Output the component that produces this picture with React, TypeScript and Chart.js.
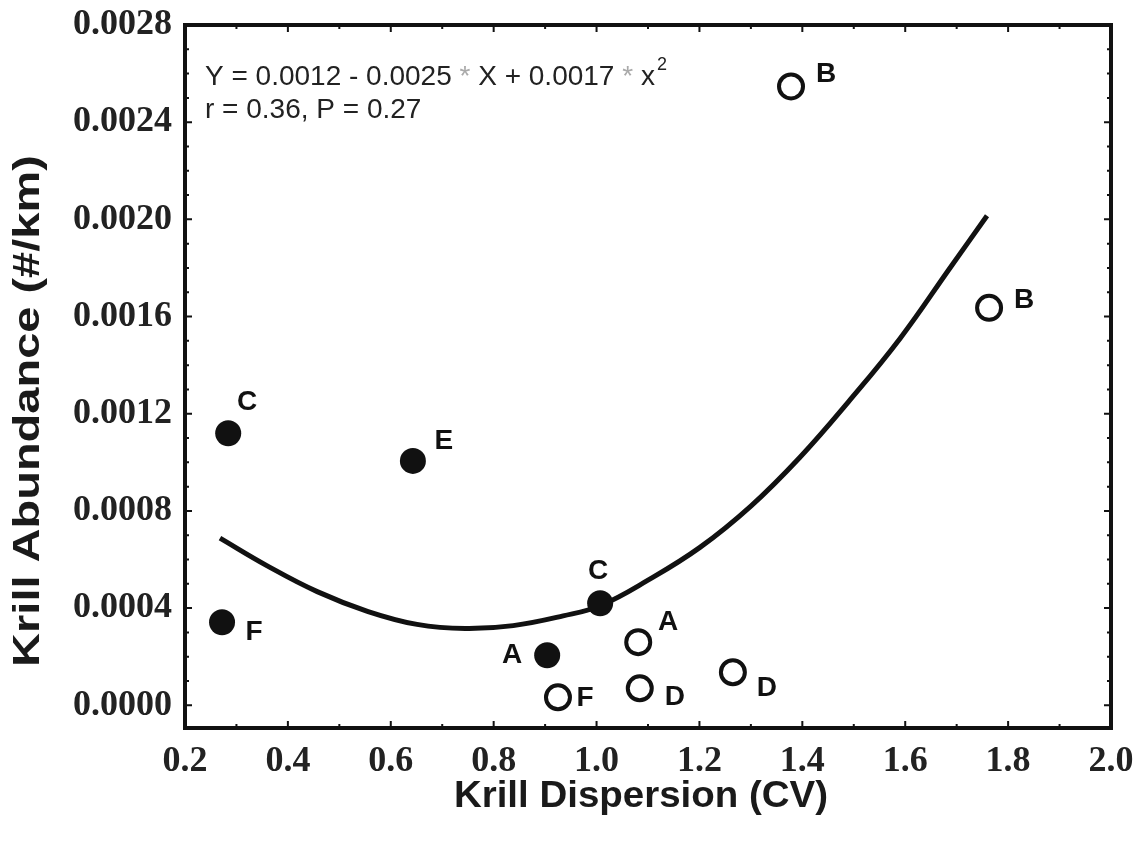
import React, { useEffect, useRef } from "react";
import { Chart, registerables } from "chart.js";

Chart.register(...registerables);

// ---- data ----
const filledX = [0.284, 0.272, 0.643, 0.904, 1.007];
const filledY = [0.00112, 0.000342, 0.001006, 0.000206, 0.00042];
const filledLabels = ["C", "F", "E", "A", "C"];

const openX = [1.378, 1.763, 1.081, 0.925, 1.084, 1.265];
const openY = [0.002547, 0.001636, 0.00026, 0.000033, 0.00007, 0.000136];
const openLabels = ["B", "B", "A", "F", "D", "D"];

const fitX = [0.268, 0.359, 0.457, 0.556, 0.651, 0.745, 0.838, 0.935, 1.007, 1.1, 1.201, 1.3, 1.395, 1.49, 1.59, 1.687, 1.759];
const fitY = [0.000688, 0.000575, 0.000468, 0.000386, 0.000333, 0.000316, 0.000328, 0.000368, 0.00041, 0.000515, 0.00065, 0.00082, 0.00102, 0.00125, 0.00151, 0.0018, 0.002015];

const xTickValues = [0.2, 0.4, 0.6, 0.8, 1.0, 1.2, 1.4, 1.6, 1.8, 2.0];
const xMinorTicks = [0.3, 0.5, 0.7, 0.9, 1.1, 1.3, 1.5, 1.7, 1.9];
const yTickValues = [0, 0.0004, 0.0008, 0.0012, 0.0016, 0.002, 0.0024, 0.0028];
const yMinorTicks = [0.0001, 0.0002, 0.0003, 0.0005, 0.0006, 0.0007, 0.0009, 0.001, 0.0011, 0.0013, 0.0014, 0.0015, 0.0017, 0.0018, 0.0019, 0.0021, 0.0022, 0.0023, 0.0025, 0.0026, 0.0027];

const xTitle = "Krill Dispersion (CV)";
const yTitle = "Krill Abundance (#/km)";
const equationParts = ["Y = 0.0012 - 0.0025 ", "*", " X + 0.0017 ", "*", " x"];
const equationSup = "2";
const statsLine = "r = 0.36, P = 0.27";

// ---- label placement (pixels, styling only) ----
const filledOffsets = [[19, -31], [32, 10], [31, -20], [-35, 0], [-2, -32]];
const openOffsets = [[35, -12], [35, -8], [30, -20], [27, 1], [35, 9], [34, 16]];

const INK = "#111";

const decorPlugin = {
  id: "decor",
  afterDraw(chart: any) {
    const ctx = chart.ctx;
    const { left, right, top, bottom } = chart.chartArea;
    const xs = chart.scales.x;
    const ys = chart.scales.y;
    ctx.save();
    // inward tick marks
    ctx.strokeStyle = INK;
    ctx.lineWidth = 2;
    const tickX = (v: number, len: number) => {
      const p = xs.getPixelForValue(v);
      ctx.beginPath();
      ctx.moveTo(p, bottom);
      ctx.lineTo(p, bottom - len);
      ctx.moveTo(p, top);
      ctx.lineTo(p, top + len);
      ctx.stroke();
    };
    const tickY = (v: number, len: number) => {
      const p = ys.getPixelForValue(v);
      ctx.beginPath();
      ctx.moveTo(left, p);
      ctx.lineTo(left + len, p);
      ctx.moveTo(right, p);
      ctx.lineTo(right - len, p);
      ctx.stroke();
    };
    xTickValues.forEach((v) => tickX(v, 7));
    xMinorTicks.forEach((v) => tickX(v, 4));
    yTickValues.forEach((v) => tickY(v, 7));
    yMinorTicks.forEach((v) => tickY(v, 4));
    // frame
    ctx.lineWidth = 4;
    ctx.strokeRect(left, top, right - left, bottom - top);

    // point labels
    ctx.fillStyle = INK;
    ctx.font = "bold 28px 'Liberation Sans', Arial, sans-serif";
    ctx.textAlign = "center";
    ctx.textBaseline = "middle";
    const m0 = chart.getDatasetMeta(0).data;
    filledLabels.forEach((t, i) => {
      const el = m0[i];
      ctx.fillText(t, el.x + filledOffsets[i][0], el.y + filledOffsets[i][1]);
    });
    const m1 = chart.getDatasetMeta(1).data;
    openLabels.forEach((t, i) => {
      const el = m1[i];
      ctx.fillText(t, el.x + openOffsets[i][0], el.y + openOffsets[i][1]);
    });

    // equation text
    ctx.textAlign = "left";
    ctx.textBaseline = "alphabetic";
    ctx.font = "28px 'Liberation Sans', Arial, sans-serif";
    let cx = 205;
    equationParts.forEach((part) => {
      ctx.fillStyle = part === "*" ? "#aaa" : "#222";
      ctx.fillText(part, cx, 85);
      cx += ctx.measureText(part).width;
    });
    ctx.fillStyle = "#222";
    ctx.font = "18px 'Liberation Sans', Arial, sans-serif";
    ctx.fillText(equationSup, cx + 2, 70);
    ctx.font = "28px 'Liberation Sans', Arial, sans-serif";
    ctx.fillText(statsLine, 205, 118);

    // axis titles
    ctx.fillStyle = "#1a1a1a";
    ctx.font = "bold 37px 'Liberation Sans', Arial, sans-serif";
    ctx.textAlign = "center";
    ctx.textBaseline = "middle";
    ctx.save();
    ctx.translate(641, 797);
    ctx.scale(1.04, 1);
    ctx.fillText(xTitle, 0, 0);
    ctx.restore();
    ctx.save();
    ctx.translate(29, 411);
    ctx.rotate(-Math.PI / 2);
    ctx.scale(1.27, 1);
    ctx.fillText(yTitle, 0, 0);
    ctx.restore();

    ctx.restore();
  },
};

export default function App() {
  const ref = useRef<HTMLCanvasElement | null>(null);
  useEffect(() => {
    if (!ref.current) return;
    const chart = new Chart(ref.current, {
      type: "scatter",
      data: {
        datasets: [
          {
            label: "filled",
            data: filledX.map((x, i) => ({ x, y: filledY[i] })),
            backgroundColor: INK,
            borderWidth: 0,
            pointRadius: 13,
            pointHoverRadius: 13,
          },
          {
            label: "open",
            data: openX.map((x, i) => ({ x, y: openY[i] })),
            backgroundColor: "#fff",
            borderColor: INK,
            borderWidth: 4,
            pointRadius: 12,
            pointHoverRadius: 12,
          },
          {
            label: "fit",
            data: fitX.map((x, i) => ({ x, y: fitY[i] })),
            showLine: true,
            borderColor: INK,
            borderWidth: 5,
            pointRadius: 0,
            tension: 0.4,
            fill: false,
          } as any,
        ],
      },
      options: {
        responsive: false,
        animation: false,
        devicePixelRatio: 1,
        layout: { padding: { top: 25, right: 30, left: 0, bottom: 0 } },
        plugins: { legend: { display: false }, tooltip: { enabled: false } },
        scales: {
          x: {
            type: "linear",
            min: 0.2,
            max: 2.0,
            grid: { display: false, drawTicks: false },
            border: { display: false },
            afterBuildTicks: (axis: any) => {
              axis.ticks = xTickValues.map((v) => ({ value: v }));
            },
            afterFit: (axis: any) => {
              axis.height = 114;
            },
            ticks: {
              autoSkip: false,
              maxRotation: 0,
              padding: 0,
              color: "#222",
              font: { family: "'Liberation Serif', 'Times New Roman', serif", size: 36, weight: "bold", lineHeight: 1.89 },
              callback: (v: any) => Number(v).toFixed(1),
            },
          },
          y: {
            type: "linear",
            min: -0.0000934,
            max: 0.0028,
            grid: { display: false, drawTicks: false },
            border: { display: false },
            afterBuildTicks: (axis: any) => {
              axis.ticks = yTickValues.map((v) => ({ value: v }));
            },
            afterFit: (axis: any) => {
              axis.width = 185;
            },
            ticks: {
              autoSkip: false,
              padding: 13,
              color: "#222",
              font: { family: "'Liberation Serif', 'Times New Roman', serif", size: 36, weight: "bold", lineHeight: 0.6 },
              callback: (v: any) => Number(v).toFixed(4),
            },
          },
        },
      },
      plugins: [decorPlugin],
    });
    return () => chart.destroy();
  }, []);
  return (
    <div style={{ position: "fixed", left: 0, top: 0, width: 1141, height: 842, background: "#fff" }}>
      <canvas ref={ref} width={1141} height={842} />
    </div>
  );
}
